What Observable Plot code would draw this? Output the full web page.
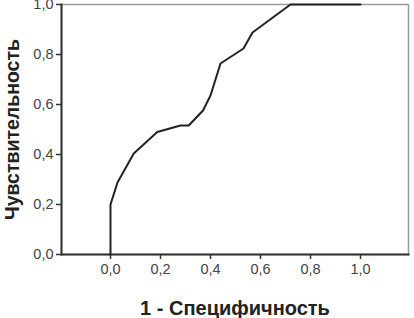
<!DOCTYPE html>
<html><head><meta charset="utf-8">
<script src="https://cdn.jsdelivr.net/npm/d3@7"></script>
<script src="https://cdn.jsdelivr.net/npm/@observablehq/plot@0.6"></script>
<style>
body{margin:0;background:#fff;}
svg{font-family:"Liberation Sans",Arial,sans-serif;}
svg [aria-label="y-axis label"] text, svg [aria-label="x-axis label"] text{font-weight:bold;fill:#222;}
svg [aria-label="y-axis label"] text{font-size:19.5px;}
svg [aria-label="x-axis label"] text{font-size:20px;}
svg [aria-label$="tick label"] text{fill:#444;font-size:14.5px;}
</style>
</head><body>
<div id="chart"></div>
<script>
const fpr = [0.0, 0.0, 0.028, 0.093, 0.187, 0.28, 0.313, 0.37, 0.40, 0.44, 0.532, 0.568, 0.72, 1.0];
const tpr = [0.0, 0.2, 0.288, 0.404, 0.49, 0.516, 0.516, 0.576, 0.636, 0.764, 0.824, 0.888, 1.0, 1.0];
const ticks = [0, 0.2, 0.4, 0.6, 0.8, 1.0];
const xDomain = [-0.196, 1.192];
const data = fpr.map((x, i) => ({x, y: tpr[i]}));
const fmt = d => d.toFixed(1).replace(".", ",");

const chart = Plot.plot({
  width: 414, height: 318,
  marginLeft: 61, marginRight: 6, marginTop: 4, marginBottom: 64,
  x: {domain: xDomain},
  y: {domain: [0, 1]},
  marks: [
    Plot.frame({stroke: "#999", strokeWidth: 1.5}),
    Plot.frame({anchor: "left", stroke: "#333", strokeWidth: 2}),
    Plot.frame({anchor: "bottom", stroke: "#333", strokeWidth: 2}),
    Plot.axisY(ticks, {tickFormat: fmt, tickSize: 5, tickPadding: 3, stroke: "#333", strokeWidth: 1.5,
      label: "Чувствительность", labelAnchor: "center", labelOffset: 56, labelArrow: "none"}),
    Plot.axisX(ticks, {tickFormat: fmt, tickSize: 5, tickPadding: 4, stroke: "#333", strokeWidth: 1.5,
      label: "1 - Специфичность", labelAnchor: "center", labelOffset: 60, labelArrow: "none"}),
    Plot.line(data, {x: "x", y: "y", stroke: "#222", strokeWidth: 2})
  ]
});
document.getElementById("chart").appendChild(chart);
</script>
</body></html>
